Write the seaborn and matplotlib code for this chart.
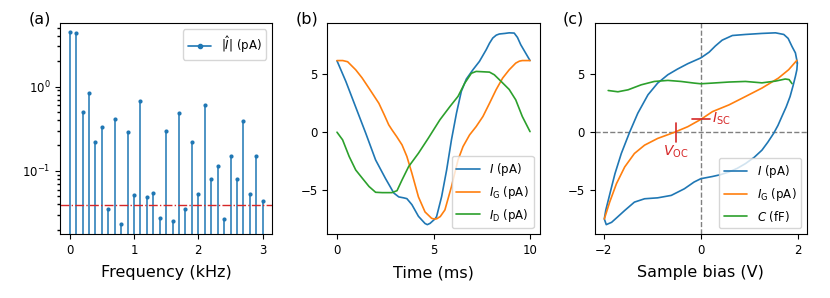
import numpy as np
import matplotlib
matplotlib.use("Agg")
import matplotlib.pyplot as plt
from matplotlib.lines import Line2D
import seaborn as sns

# ---------------- data ----------------
# (a) spectrum magnitude
freq_khz = [0.0, 0.1, 0.2, 0.3, 0.4, 0.5, 0.6, 0.7, 0.8, 0.9, 1.0,
            1.1, 1.2, 1.3, 1.4, 1.5, 1.6, 1.7, 1.8, 1.9, 2.0,
            2.1, 2.2, 2.3, 2.4, 2.5, 2.6, 2.7, 2.8, 2.9, 3.0]
amp_pa = [4.41, 4.29, 0.496, 0.833, 0.219, 0.333, 0.0357, 0.414, 0.0235, 0.287, 0.0524,
          0.676, 0.0483, 0.0543, 0.0277, 0.298, 0.0255, 0.492, 0.0354, 0.219, 0.0538,
          0.601, 0.081, 0.1156, 0.0267, 0.151, 0.0796, 0.395, 0.0538, 0.149, 0.044]
noise_level = 0.039

# (b) time traces
t_I = [0, 0.46, 0.97, 1.49, 2.0, 2.51, 2.75, 2.94, 3.2, 3.45, 3.62, 3.88, 4.22, 4.56, 4.68, 4.82,
       5.08, 5.16, 5.42, 5.68, 5.93, 6.19, 6.44, 6.7, 7.04, 7.38, 7.73, 7.9, 8.07, 8.25, 8.41,
       8.7, 8.92, 9.18, 9.35, 9.52, 10]
I_t = [6.18, 4.39, 2.17, -0.09, -2.4, -4.0, -4.7, -5.26, -5.6, -5.68, -5.75, -6.27, -7.28, -7.9, -8.0, -7.89,
       -7.5, -7.3, -5.58, -3.27, -0.66, 1.65, 3.53, 4.6, 5.4, 6.13, 7.14, 7.7, 8.15, 8.4, 8.5,
       8.55, 8.6, 8.58, 8.2, 7.57, 6.2]

t_G = [0, 0.3, 0.55, 0.97, 1.3, 1.66, 2.17, 2.45, 2.68, 2.85, 3.1, 3.37, 3.62, 3.88, 4.22, 4.56, 4.9,
       5.0, 5.16, 5.35, 5.59, 5.93, 6.27, 6.53, 6.87, 7.21, 7.56, 7.9, 8.24, 8.58, 8.92,
       9.26, 9.45, 9.6, 10]
IG_t = [6.2, 6.2, 6.1, 5.4, 4.7, 3.8, 2.5, 1.5, 0.64, 0.2, -0.4, -1.1, -2.1, -3.55, -5.6, -6.9, -7.45,
        -7.5, -7.5, -7.3, -6.73, -4.71, -2.4, -1.24, -0.23, 0.49, 1.36, 2.5, 3.67, 4.68, 5.4,
        5.98, 6.15, 6.2, 6.2]

t_D = [0, 0.29, 0.63, 0.97, 1.32, 1.66, 2.0, 2.34, 2.85, 3.11, 3.37, 3.71, 4.22, 4.73,
       5.33, 5.85, 6.27, 6.62, 6.96, 7.21, 7.9, 8.15, 8.5, 8.92, 9.26, 9.6, 10]
ID_t = [0, -0.66, -2.1, -3.27, -4.0, -4.7, -5.2, -5.23, -5.23, -5.06, -4.13, -2.98, -1.82, -0.52,
        1.07, 2.22, 3.1, 4.25, 5.1, 5.26, 5.2, 4.97, 4.4, 3.7, 2.8, 1.36, 0.05]

# (c) curves against sample bias
V_loop = [1.99, 1.98, 1.95, 1.9, 1.84, 1.76, 1.67, 1.59, 1.50, 1.38, 1.26, 1.1, 0.92, 0.75,
          0.58, 0.4, 0.24, 0.0, -0.14, -0.34, -0.61,
          -0.89, -1.16, -1.37, -1.57, -1.72, -1.84, -1.95, -1.99, -1.96, -1.91, -1.84, -1.77,
          -1.64, -1.47, -1.30, -1.09, -0.89, -0.68, -0.48, -0.27, 0.0, 0.17, 0.3, 0.44, 0.65,
          0.92, 1.26, 1.54, 1.71, 1.8, 1.88, 1.95, 1.99]
I_loop = [5.98, 5.4, 4.83, 4.0, 3.09, 2.2, 1.36, 0.6, -0.09, -0.85, -1.53, -2.15, -2.69, -3.1,
          -3.41, -3.65, -3.8, -3.99, -4.28, -4.86, -5.43,
          -5.64, -5.72, -6.01, -6.73, -7.3, -7.75, -7.95, -7.46, -6.7, -5.87, -4.7, -3.55,
          -1.82, 0.0, 1.65, 3.24, 4.25, 4.97, 5.46, 5.92, 6.42, 6.91, 7.45, 7.95, 8.35,
          8.44, 8.53, 8.58, 8.44, 8.1, 7.4, 6.85, 5.98]

V_G = [-1.99, -1.88, -1.74, -1.57, -1.37, -1.16, -0.89, -0.55, -0.27, 0.0, 0.24, 0.58,
       0.92, 1.26, 1.6, 1.81, 1.98]
IG_V = [-7.46, -6.01, -4.42, -2.98, -1.82, -1.1, -0.52, 0.0, 0.49, 1.12, 1.79, 2.37,
        3.09, 3.82, 4.68, 5.4, 6.21]

V_C = [-1.91, -1.71, -1.5, -1.23, -0.96, -0.68, -0.41, -0.14, 0.0, 0.24, 0.58, 0.92,
       1.26, 1.54, 1.74, 1.82, 1.88]
C_V = [3.61, 3.5, 3.67, 4.1, 4.39, 4.48, 4.39, 4.25, 4.19, 4.25, 4.34, 4.39,
       4.27, 4.42, 4.6, 4.55, 4.2]

V_oc = -0.52
I_sc = 1.15

# ---------------- style ----------------
sns.set_theme(style="ticks", palette="tab10", rc={
    "axes.edgecolor": "black", "axes.labelcolor": "black", "text.color": "black",
    "xtick.color": "black", "ytick.color": "black",
    "axes.linewidth": 0.8, "xtick.major.size": 3.5, "ytick.major.size": 3.5,
    "xtick.minor.size": 2, "ytick.minor.size": 2,
    "xtick.major.width": 0.8, "ytick.major.width": 0.8,
    "xtick.labelsize": 8.5, "ytick.labelsize": 8.5,
    "axes.labelsize": 11.5, "legend.fontsize": 8.5,
})
plt.rcParams["font.family"] = ["DejaVu Sans"]

c_blue, c_orange, c_green, c_red = "#1f77b4", "#ff7f0e", "#2ca02c", "#d62728"
lw = 1.2

fig, axes = plt.subplots(1, 3, figsize=(8.3, 2.98), dpi=100)
fig.subplots_adjust(left=0.0723, right=0.9723, bottom=0.214, top=0.922, wspace=0.259)
ax1, ax2, ax3 = axes

# ---------------- (a) ----------------
ax1.set_yscale("log")
y_floor = 0.0177
ax1.vlines(freq_khz, y_floor, amp_pa, color=c_blue, lw=1.3, alpha=0.85)
sns.scatterplot(x=freq_khz, y=amp_pa, ax=ax1, color=c_blue, s=9, linewidth=0, zorder=3)
ax1.axhline(noise_level, color=c_red, ls="-.", lw=1)
ax1.set_ylim(y_floor, 5.64)
ax1.set_xticks([0, 1, 2, 3])
ax1.set_xlabel("Frequency (kHz)", labelpad=6)
handle = Line2D([], [], color=c_blue, marker=".", lw=lw, label=r"$|\hat{I}|$ (pA)")
ax1.legend(handles=[handle], loc="upper right")

# ---------------- (b) ----------------
sns.lineplot(x=t_I, y=I_t, ax=ax2, color=c_blue, lw=lw, sort=False, estimator=None, label=r"$I$ (pA)")
sns.lineplot(x=t_G, y=IG_t, ax=ax2, color=c_orange, lw=lw, sort=False, estimator=None, label=r"$I_\mathrm{G}$ (pA)")
sns.lineplot(x=t_D, y=ID_t, ax=ax2, color=c_green, lw=lw, sort=False, estimator=None, label=r"$I_\mathrm{D}$ (pA)")
ax2.set_xticks([0, 5, 10])
ax2.set_yticks([-5, 0, 5])
ax2.set_xlabel("Time (ms)", labelpad=6)
ax2.legend(loc="lower right")

# ---------------- (c) ----------------
ax3.axvline(0, color="gray", ls="--", lw=1, zorder=0)
ax3.axhline(0, color="gray", ls="--", lw=1, zorder=0)
sns.lineplot(x=V_loop, y=I_loop, ax=ax3, color=c_blue, lw=lw, sort=False, estimator=None, label=r"$I$ (pA)")
sns.lineplot(x=V_G, y=IG_V, ax=ax3, color=c_orange, lw=lw, sort=False, estimator=None, label=r"$I_\mathrm{G}$ (pA)")
sns.lineplot(x=V_C, y=C_V, ax=ax3, color=c_green, lw=lw, sort=False, estimator=None, label=r"$C$ (fF)")
ax3.plot([V_oc, V_oc], [-0.8, 0.8], color=c_red, lw=1.2)
ax3.plot([-0.19, 0.19], [I_sc, I_sc], color=c_red, lw=1.2)
ax3.text(V_oc, -1.0, r"$V_\mathrm{OC}$", color=c_red, ha="center", va="top", fontsize=10)
ax3.text(0.24, I_sc, r"$I_\mathrm{SC}$", color=c_red, ha="left", va="center", fontsize=10)
ax3.set_xticks([-2, 0, 2])
ax3.set_yticks([-5, 0, 5])
ax3.set_xlabel("Sample bias (V)", labelpad=6)
ax3.legend(loc="lower right")

for ax, tag in zip(axes, ["(a)", "(b)", "(c)"]):
    ax.text(-0.15, 0.985, tag, transform=ax.transAxes, ha="left", va="bottom", fontsize=11.5)

fig.savefig("out.png", dpi=100)
